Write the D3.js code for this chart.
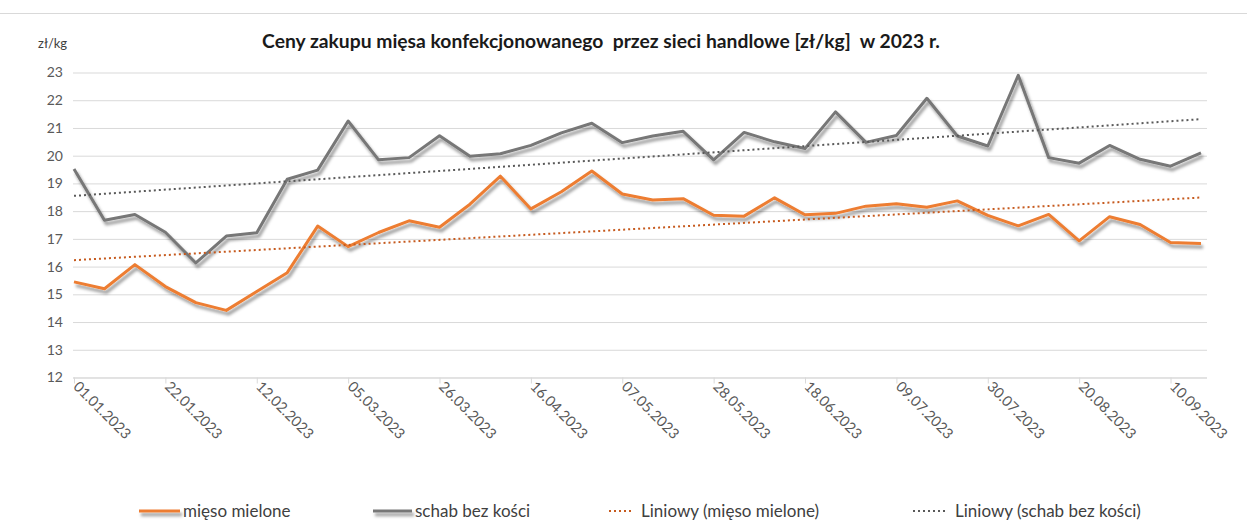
<!DOCTYPE html>
<html>
<head>
<meta charset="utf-8">
<script src="https://cdn.jsdelivr.net/npm/d3@7"></script>
<style>
  body { margin: 0; background: #fff; }
  svg { display: block; font-family: Lato, "Open Sans", sans-serif; }
</style>
</head>
<body>
<div class="main"></div>
<script>
// data (weekly, zł/kg)
const weeks = ["01.01.2023","08.01.2023","15.01.2023","22.01.2023","29.01.2023","05.02.2023","12.02.2023","19.02.2023","26.02.2023","05.03.2023","12.03.2023","19.03.2023","26.03.2023","02.04.2023","09.04.2023","16.04.2023","23.04.2023","30.04.2023","07.05.2023","14.05.2023","21.05.2023","28.05.2023","04.06.2023","11.06.2023","18.06.2023","25.06.2023","02.07.2023","09.07.2023","16.07.2023","23.07.2023","30.07.2023","06.08.2023","13.08.2023","20.08.2023","27.08.2023","03.09.2023","10.09.2023","17.09.2023"];
const tickLabels = ["01.01.2023","22.01.2023","12.02.2023","05.03.2023","26.03.2023","16.04.2023","07.05.2023","28.05.2023","18.06.2023","09.07.2023","30.07.2023","20.08.2023","10.09.2023"];
const yTicks = [12,13,14,15,16,17,18,19,20,21,22,23];
const miesoMielone = [15.45,15.2,16.07,15.28,14.7,14.42,15.1,15.78,17.46,16.72,17.23,17.65,17.42,18.25,19.26,18.08,18.7,19.45,18.62,18.4,18.45,17.85,17.82,18.48,17.87,17.92,18.18,18.27,18.14,18.37,17.85,17.47,17.88,16.93,17.8,17.52,16.87,16.83];
const schabBezKosci = [19.52,17.67,17.88,17.24,16.13,17.1,17.22,19.15,19.48,21.25,19.85,19.93,20.72,19.98,20.07,20.37,20.82,21.17,20.47,20.71,20.88,19.85,20.84,20.5,20.26,21.58,20.48,20.73,22.07,20.71,20.35,22.9,19.93,19.73,20.37,19.87,19.62,20.1];
const seriesNames = ["mięso mielone","schab bez kości","Liniowy (mięso mielone)","Liniowy (schab bez kości)"];

const w = 1247, h = 527;
const plotLeft = 73, plotRight = 1207, plotTop = 72.5, plotBottom = 377.5;

const orange = "#ED7D31", gray = "#777777";
const orangeTrend = "#C65A1E", grayTrend = "#595959";

// linear trend (least squares) like Excel "Liniowy"
function trend(vals) {
  const n = vals.length;
  const mx = d3.mean(vals, (d,i) => i), my = d3.mean(vals);
  let sxy = 0, sxx = 0;
  vals.forEach((v,i) => { sxy += (i-mx)*(v-my); sxx += (i-mx)*(i-mx); });
  const b = sxy/sxx, a = my - b*mx;
  return [[0, a], [n-1, a + b*(n-1)]];
}

const xScale = d3.scalePoint().domain(weeks).range([74, 1201]);
const xIdx = d3.scaleLinear().domain([0, weeks.length-1]).range([74, 1201]);
const yScale = d3.scaleLinear().domain([12, 23]).range([plotBottom, plotTop]);

const svg = d3.select(".main").append("svg").attr("width", w).attr("height", h);

const defs = svg.append("defs");
defs.append("filter").attr("id", "shadow")
  .attr("filterUnits", "userSpaceOnUse")
  .attr("x", 0).attr("y", 0).attr("width", w).attr("height", h)
  .append("feDropShadow")
  .attr("dx", 2).attr("dy", 3.5).attr("stdDeviation", 1.5)
  .attr("flood-color", "#000").attr("flood-opacity", 0.42);

// frame top edge
svg.append("line")
  .attr("x1", 0).attr("x2", w).attr("y1", 13.5).attr("y2", 13.5)
  .attr("stroke", "#d9d9d9");

// title
svg.append("text")
  .attr("x", 601).attr("y", 48)
  .attr("text-anchor", "middle")
  .attr("font-size", 19.3).attr("font-weight", "bold").attr("fill", "#1a1a1a")
  .style("white-space", "pre")
  .text("Ceny zakupu mięsa konfekcjonowanego  przez sieci handlowe [zł/kg]  w 2023 r.");

svg.append("text")
  .attr("x", 38).attr("y", 48)
  .attr("font-size", 13).attr("fill", "#404040")
  .text("zł/kg");

// grid + y labels
const yAxis = d3.axisLeft(yScale).tickValues(yTicks).tickSize(-(plotRight-plotLeft)).tickPadding(10).tickFormat(d3.format("d"));
const gy = svg.append("g").attr("transform", "translate(" + plotLeft + ",0)").call(yAxis);
gy.select(".domain").remove();
gy.selectAll(".tick line").attr("stroke", "#d9d9d9").attr("stroke-width", 1);
gy.selectAll(".tick text").attr("font-size", 14).attr("fill", "#595959").attr("font-family", "Lato, sans-serif");

// x axis
const xAxis = d3.axisBottom(xScale).tickValues(tickLabels).tickSize(6).tickSizeOuter(0);
const gx = svg.append("g").attr("transform", "translate(0," + plotBottom + ")").call(xAxis);
gx.select(".domain").attr("d", "M" + plotLeft + ",0.5H" + plotRight).attr("stroke", "#d9d9d9");
gx.selectAll(".tick line").attr("stroke", "#d9d9d9");
gx.selectAll(".tick text")
  .attr("font-size", 14.5).attr("fill", "#595959").attr("font-family", "Lato, sans-serif")
  .attr("text-anchor", "start")
  .attr("x", 0).attr("y", 0).attr("dy", 0)
  .attr("transform", "translate(-2,10) rotate(45)");

// lines
const line = d3.line().x((d,i) => xIdx(i)).y(d => yScale(d));
svg.append("path").datum(miesoMielone)
  .attr("d", line).attr("fill", "none").attr("stroke", orange).attr("stroke-width", 3)
  .attr("stroke-linejoin", "round").attr("filter", "url(#shadow)");
svg.append("path").datum(schabBezKosci)
  .attr("d", line).attr("fill", "none").attr("stroke", gray).attr("stroke-width", 3)
  .attr("stroke-linejoin", "round").attr("filter", "url(#shadow)");

// trend lines
const tline = d3.line().x(d => xIdx(d[0])).y(d => yScale(d[1]));
svg.append("path").datum(trend(miesoMielone))
  .attr("d", tline).attr("fill", "none").attr("stroke", orangeTrend).attr("stroke-width", 2)
  .attr("stroke-dasharray", "2 3");
svg.append("path").datum(trend(schabBezKosci))
  .attr("d", tline).attr("fill", "none").attr("stroke", grayTrend).attr("stroke-width", 2)
  .attr("stroke-dasharray", "2 3");

// legend
const legendItems = [
  {name: seriesNames[0], color: orange, dash: null, x: 139, len: 41},
  {name: seriesNames[1], color: gray, dash: null, x: 373, len: 39},
  {name: seriesNames[2], color: orangeTrend, dash: "2 3", x: 609, len: 25},
  {name: seriesNames[3], color: grayTrend, dash: "2 3", x: 913, len: 35}
];
const lg = svg.append("g").attr("class", "legend");
legendItems.forEach(it => {
  lg.append("line")
    .attr("x1", it.x).attr("x2", it.x + it.len).attr("y1", 511).attr("y2", 511)
    .attr("stroke", it.color).attr("stroke-width", it.dash ? 2 : 3)
    .attr("stroke-dasharray", it.dash)
    .attr("filter", it.dash ? null : "url(#shadow)");
  lg.append("text")
    .attr("x", it.x + it.len + (it.dash ? 7 : 3)).attr("y", 517)
    .attr("font-size", 17).attr("fill", "#404040")
    .text(it.name);
});
</script>
</body>
</html>
